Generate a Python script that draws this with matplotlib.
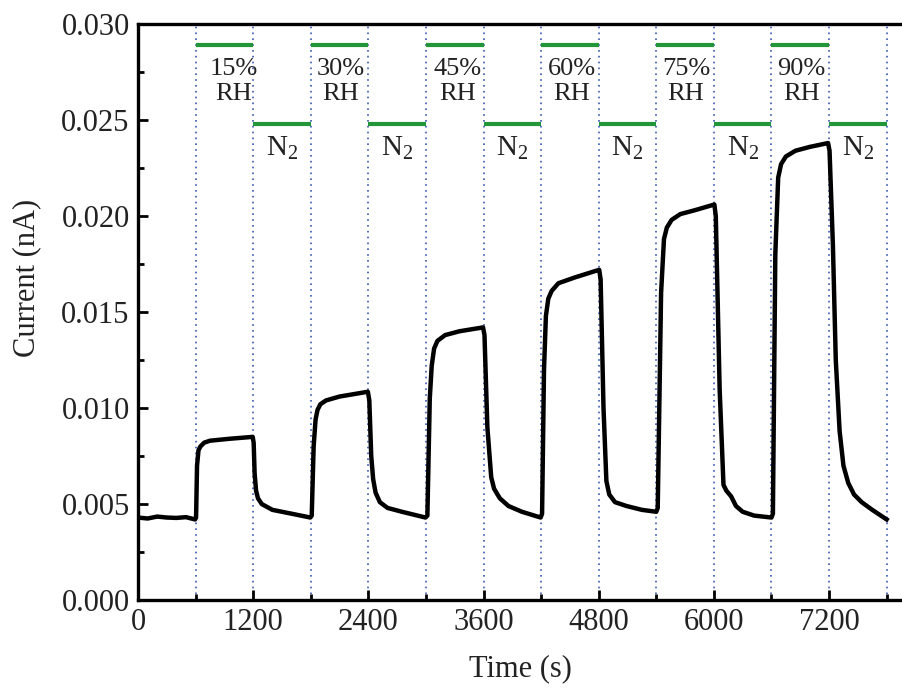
import numpy as np
import matplotlib.pyplot as plt
from matplotlib.ticker import MultipleLocator, FormatStrFormatter

plt.rcParams['font.family'] = ['Liberation Serif', 'DejaVu Serif']
plt.rcParams['mathtext.fontset'] = 'custom'
plt.rcParams['mathtext.rm'] = 'Liberation Serif'
plt.rcParams['mathtext.it'] = 'Liberation Serif:italic'

# 电流-时间曲线
time_s = [0, 100, 200, 300, 400, 500, 595,
          605, 615, 630, 650, 690, 750, 950, 1195,
          1205, 1215, 1230, 1250, 1290, 1400, 1600, 1795,
          1810, 1830, 1850, 1870, 1900, 1960, 2100, 2395,
          2410, 2430, 2450, 2475, 2520, 2600, 2750, 2995,
          3015, 3040, 3060, 3085, 3120, 3200, 3350, 3595,
          3610, 3640, 3680, 3710, 3770, 3860, 4000, 4195,
          4210, 4230, 4250, 4275, 4310, 4380, 4550, 4805,
          4820, 4850, 4880, 4910, 4970, 5090, 5250, 5400,
          5415, 5450, 5480, 5510, 5560, 5650, 5800, 6005,
          6020, 6060, 6100, 6130, 6180, 6230, 6300, 6420, 6600,
          6615, 6640, 6670, 6700, 6750, 6850, 7000, 7190,
          7205, 7240, 7270, 7310, 7350, 7400, 7460, 7540, 7650, 7800]
current_nA = [0.0043, 0.00425, 0.00435, 0.0043, 0.00428, 0.00432, 0.0042,
              0.0043, 0.0070, 0.0078, 0.0080, 0.0082, 0.0083, 0.0084, 0.0085,
              0.0082, 0.0066, 0.0057, 0.0053, 0.0050, 0.0047, 0.0045, 0.0043,
              0.0044, 0.0080, 0.0094, 0.0099, 0.0102, 0.0104, 0.0106, 0.01085,
              0.0104, 0.0075, 0.0063, 0.0056, 0.0051, 0.0048, 0.0046, 0.0043,
              0.0044, 0.0105, 0.0122, 0.0131, 0.0135, 0.0138, 0.0140, 0.0142,
              0.0138, 0.0090, 0.0064, 0.0058, 0.0053, 0.0049, 0.0046, 0.0043,
              0.0045, 0.0120, 0.0148, 0.0157, 0.0161, 0.0165, 0.0168, 0.0172,
              0.0167, 0.0100, 0.0062, 0.0055, 0.0051, 0.0049, 0.0047, 0.0046,
              0.0048, 0.0160, 0.0188, 0.0194, 0.0198, 0.0201, 0.0203, 0.0206,
              0.0200, 0.0110, 0.0060, 0.0057, 0.0054, 0.0049, 0.0046, 0.0044, 0.0043,
              0.0045, 0.0180, 0.0220, 0.0227, 0.0231, 0.0234, 0.0236, 0.0238,
              0.0234, 0.0185, 0.0125, 0.0088, 0.0070, 0.0061, 0.0055, 0.0051, 0.0047, 0.0042]

# 气氛切换
switch_times = [600, 1200, 1800, 2400, 3000, 3600, 4200, 4800, 5400, 6000, 6600, 7200, 7800]
rh_labels = ['15%\nRH', '30%\nRH', '45%\nRH', '60%\nRH', '75%\nRH', '90%\nRH']
rh_label_x = [1000, 2110, 3330, 4520, 5710, 6910]
rh_level = 0.0289
n2_level = 0.0248

fig = plt.figure(figsize=(9.02, 6.97), dpi=100)
ax = fig.add_axes([0.153, 0.139, 0.847, 0.8266])

for t in switch_times:
    ax.axvline(t, color='#3a58b0', lw=1.2, ls=(0, (1, 2.5)), zorder=1)

for i in range(6):
    t0 = switch_times[2 * i]
    t1 = switch_times[2 * i + 1]
    t2 = switch_times[2 * i + 2]
    ax.plot([t0, t1], [rh_level, rh_level], color='#23963a', lw=3, solid_capstyle='butt', zorder=2)
    ax.plot([t1, t2], [n2_level, n2_level], color='#23963a', lw=3, solid_capstyle='butt', zorder=2)
    ax.text(rh_label_x[i], 0.0270, rh_labels[i], ha='center', va='center',
            fontsize=19, linespacing=1.2, color='#222222')
    ax.text((t1 + t2) / 2, 0.0235, r'N$_2$', ha='center', va='center',
            fontsize=21, color='#222222')

ax.plot(time_s, current_nA, color='black', lw=3.2, solid_joinstyle='round', zorder=3)

ax.set_xlim(0, 7960)
ax.set_ylim(0, 0.030)
ax.xaxis.set_major_locator(MultipleLocator(1200))
ax.xaxis.set_minor_locator(MultipleLocator(600))
ax.yaxis.set_major_locator(MultipleLocator(0.005))
ax.yaxis.set_minor_locator(MultipleLocator(0.0025))
ax.yaxis.set_major_formatter(FormatStrFormatter('%.3f'))

ax.tick_params(which='both', direction='in', width=2, labelsize=22, color='black',
               labelcolor='#222222', top=False, right=False)
ax.tick_params(which='major', length=7, pad=6)
ax.tick_params(which='minor', length=4)

for side in ['left', 'bottom', 'top']:
    ax.spines[side].set_linewidth(2.4)
ax.spines['right'].set_visible(False)

ax.set_xlabel('Time (s)', fontsize=22, labelpad=12, color='#222222')
ax.set_ylabel('Current (nA)', fontsize=22, color='#222222')
ax.yaxis.set_label_coords(-0.127, 0.56)

fig.savefig('out.png', dpi=100)
